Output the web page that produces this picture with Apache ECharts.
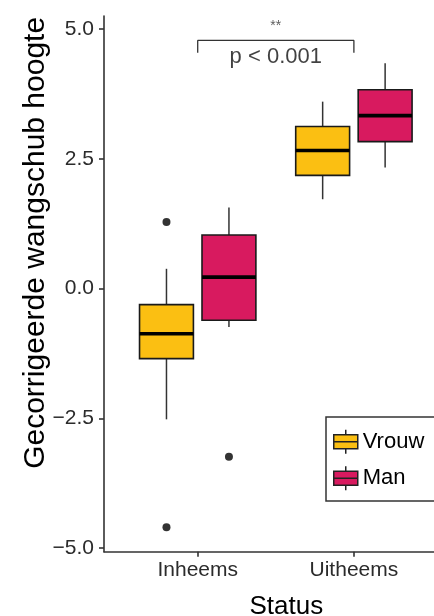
<!DOCTYPE html>
<html><head><meta charset="utf-8">
<script src="https://cdn.jsdelivr.net/npm/echarts@6/dist/echarts.min.js"></script>
<style>html,body{margin:0;padding:0;background:#fff}#c{width:434px;height:616px}</style>
</head><body><div id="c"></div>
<script>
// ---- data ----
const categories = ['Inheems', 'Uitheems'];
const groups = ['Vrouw', 'Man'];
// [lower whisker, Q1, median, Q3, upper whisker] per category
const vrouwStats = [[-2.52, -1.35, -0.87, -0.31, 0.38], [1.72, 2.18, 2.66, 3.12, 3.60]];
const manStats   = [[-0.74, -0.61, 0.22, 1.03, 1.56], [2.33, 2.83, 3.33, 3.83, 4.34]];
// [category index, value]
const vrouwOutliers = [[0, 1.28], [0, -4.60]];
const manOutliers   = [[0, -3.24]];
const yTicks = [-5, -2.5, 0, 2.5, 5];
const bracketCats = [0, 1];
const bracketTop = 4.78, bracketLeg = 4.54;
const sigStars = '**', pLabel = 'p < 0.001';
const starsY = 5.05, pLabelY = 4.47;

// ---- style ----
const FONT = '"Liberation Sans", Arial, Helvetica, sans-serif';
const COLORS = ['#FBBF12', '#D81A5F'];
const DODGE = 0.2, BOX_W = 0.345;
const AXIS_COLOR = '#333';
const LEGEND_ICON = 'path://M0,5L24,5L24,19L0,19Z M0,12L24,12 M12,0L12,5 M12,19L12,24';

function boxRender(offset) {
  return function (params, api) {
    const x = api.value(0) + offset;
    const w = api.size([BOX_W, 0])[0];
    const pLo = api.coord([x, api.value(1)]);
    const pQ1 = api.coord([x, api.value(2)]);
    const pMed = api.coord([x, api.value(3)]);
    const pQ3 = api.coord([x, api.value(4)]);
    const pHi = api.coord([x, api.value(5)]);
    const cx = pMed[0];
    const fill = api.visual('color');
    return { type: 'group', children: [
      { type: 'line', shape: { x1: cx, y1: pHi[1], x2: cx, y2: pQ3[1] }, style: { stroke: '#333', lineWidth: 1.5 } },
      { type: 'line', shape: { x1: cx, y1: pQ1[1], x2: cx, y2: pLo[1] }, style: { stroke: '#333', lineWidth: 1.5 } },
      { type: 'rect', shape: { x: cx - w / 2, y: pQ3[1], width: w, height: pQ1[1] - pQ3[1] }, style: { fill: fill, stroke: '#1a1a1a', lineWidth: 1.6 } },
      { type: 'line', shape: { x1: cx - w / 2, y1: pMed[1], x2: cx + w / 2, y2: pMed[1] }, style: { stroke: '#000', lineWidth: 3.6 } }
    ] };
  };
}

const statsByGroup = [vrouwStats, manStats];
const outliersByGroup = [vrouwOutliers, manOutliers];
const offsets = [-DODGE, DODGE];

const series = [];
groups.forEach(function (g, gi) {
  series.push({
    name: g, type: 'custom',
    renderItem: boxRender(offsets[gi]),
    itemStyle: { color: COLORS[gi], borderColor: '#1a1a1a', borderWidth: 1.5 },
    encode: { x: 0, y: [1, 2, 3, 4, 5] },
    data: statsByGroup[gi].map(function (s, i) { return [i + 1].concat(s); }),
    silent: true
  });
});
groups.forEach(function (g, gi) {
  series.push({
    name: g + ' uitschieters', type: 'scatter', symbol: 'circle', symbolSize: 8,
    itemStyle: { color: '#000' }, silent: true,
    data: outliersByGroup[gi].map(function (o) { return [o[0] + 1 + offsets[gi], o[1]]; })
  });
});
const bx0 = bracketCats[0] + 1, bx1 = bracketCats[1] + 1, bmid = (bx0 + bx1) / 2;
series.push({
  name: 'bracket', type: 'line', symbol: 'none', silent: true,
  lineStyle: { color: '#333', width: 1.3 },
  data: [[bx0, bracketLeg], [bx0, bracketTop], [bx1, bracketTop], [bx1, bracketLeg]]
});
series.push({
  name: 'annot', type: 'scatter', symbolSize: 0.01, silent: true,
  itemStyle: { color: 'transparent' },
  label: { show: true, position: 'inside', formatter: function (p) { return p.value[2]; }, fontFamily: FONT },
  data: [
    { value: [bmid, starsY, sigStars], label: { fontSize: 14, color: '#333' } },
    { value: [bmid, pLabelY, pLabel], label: { fontSize: 22, color: '#111' } }
  ]
});

const chart = echarts.init(document.getElementById('c'), null, { renderer: 'canvas' });
chart.setOption({
  animation: false,
  backgroundColor: '#fff',
  textStyle: { fontFamily: FONT },
  grid: { left: 104, top: 16, width: 343.6, height: 535.7, containLabel: false, outerBoundsMode: 'none' },
  xAxis: {
    type: 'value', min: 0.4, max: 2.6,
    splitLine: { show: false },
    axisLine: { show: true, onZero: false, lineStyle: { color: AXIS_COLOR, width: 1.6 } },
    axisTick: { show: true, customValues: [1, 2], length: 5, lineStyle: { color: AXIS_COLOR, width: 1.6 } },
    axisLabel: { customValues: [1, 2], formatter: function (v) { return categories[Math.round(v) - 1]; },
      fontSize: 21, color: '#2b2b2b', margin: 8, fontFamily: FONT },
    name: 'Status', nameLocation: 'middle', nameGap: 42,
    nameTextStyle: { fontSize: 26, color: '#000', fontFamily: FONT, padding: [0, 0, 0, 21] }
  },
  yAxis: {
    type: 'value', min: -5.07, max: 5.25,
    splitLine: { show: false },
    axisLine: { show: true, onZero: false, lineStyle: { color: AXIS_COLOR, width: 1.6 } },
    axisTick: { show: true, customValues: yTicks, length: 5, lineStyle: { color: AXIS_COLOR, width: 1.6 } },
    axisLabel: { customValues: yTicks, formatter: function (v) { return v.toFixed(1).replace('-', '\u2212'); },
      fontSize: 21, color: '#2b2b2b', margin: 10, fontFamily: FONT },
    name: 'Gecorrigeerde wangschub hoogte', nameLocation: 'middle', nameGap: 53, nameMoveOverlap: false,
    nameTextStyle: { fontSize: 30, color: '#000', fontFamily: FONT, padding: [0, 0, 0, 82] }
  },
  legend: {
    orient: 'vertical', left: 326, top: 417,
    data: groups.map(function (g) { return { name: g, icon: LEGEND_ICON }; }),
    itemWidth: 24, itemHeight: 24, itemGap: 11,
    padding: [12, 12, 10, 7],
    borderColor: '#333', borderWidth: 1.5, backgroundColor: '#fff',
    textStyle: { fontSize: 22, color: '#000', fontFamily: FONT },
    itemStyle: { borderColor: '#222', borderWidth: 1.5 },
    selectedMode: false
  },
  series: series
});
</script></body></html>
